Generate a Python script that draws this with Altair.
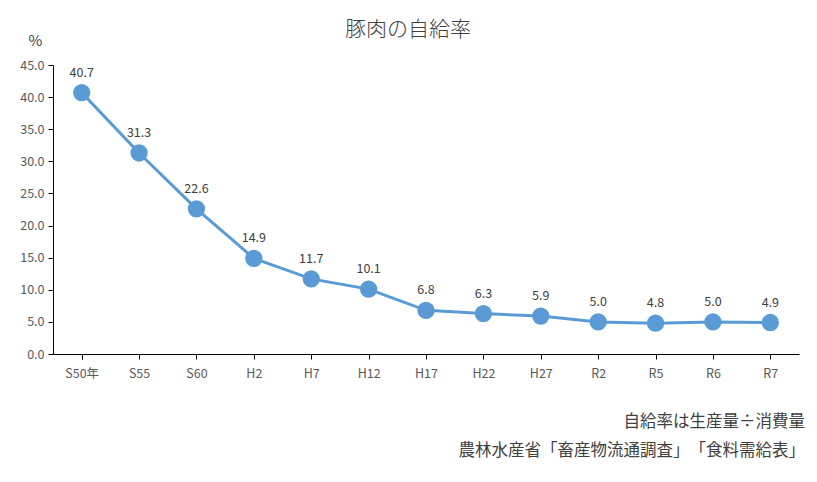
import pandas as pd
import altair as alt

years = ["S50年", "S55", "S60", "H2", "H7", "H12", "H17", "H22", "H27", "R2", "R5", "R6", "R7"]
rates = [40.7, 31.3, 22.6, 14.9, 11.7, 10.1, 6.8, 6.3, 5.9, 5.0, 4.8, 5.0, 4.9]
title_text = "豚肉の自給率"
notes = ["自給率は生産量÷消費量", "農林水産省「畜産物流通調査」　「食料需給表」"]

jp_font = "Noto Sans CJK JP"
blue = "#5B9BD5"

df = pd.DataFrame({"year": years, "rate": rates})

x_enc = alt.X(
    "year:N", sort=years, title=None,
    scale=alt.Scale(paddingInner=0, paddingOuter=0),
    axis=alt.Axis(
        labelAngle=0, labelColor="#595959", labelFontSize=12.5, labelFont=jp_font,
        labelPadding=8, domainColor="#000000", tickColor="#000000", tickSize=5,
        bandPosition=1, tickExtra=True, grid=False,
    ),
)
y_enc = alt.Y(
    "rate:Q", title="%",
    scale=alt.Scale(domain=[0, 45], nice=False),
    axis=alt.Axis(
        values=list(range(0, 46, 5)), format=".1f", labelColor="#595959",
        labelFontSize=12.5, labelFont=jp_font, labelPadding=4,
        domainColor="#000000", tickColor="#000000", tickSize=5, grid=False,
        titleAngle=0, titleX=-18, titleY=-17, titleFont=jp_font,
        titleFontSize=15, titleFontWeight="normal", titleColor="#404040",
    ),
)

base = alt.Chart(df).encode(x=x_enc, y=y_enc)

line = base.mark_line(color=blue, strokeWidth=3)
points = base.mark_circle(color=blue, size=300, opacity=1)
labels = base.mark_text(dy=-20, fontSize=12.5, font=jp_font, color="#404040").encode(
    text=alt.Text("rate:Q", format=".1f")
)


def free_text(text, xpos, ypos, size, align, weight="normal"):
    return alt.Chart(pd.DataFrame({"t": [text]})).mark_text(
        align=align, baseline="middle", fontSize=size, font=jp_font,
        color="#404040", fontWeight=weight,
    ).encode(text="t:N", x=alt.value(xpos), y=alt.value(ypos))


chart = alt.layer(
    line, points, labels,
    free_text(title_text, 355, -35, 21, "center", 300),
    free_text(notes[0], 752, 357, 16.5, "right"),
    free_text(notes[1], 752, 386, 16.5, "right"),
).properties(
    width=746,
    height=289,
    autosize=alt.AutoSizeParams(type="none"),
    padding={"left": 45, "top": 57, "right": 10, "bottom": 110},
).configure_view(stroke=None)

chart.save("out.html", embed_options={"renderer": "svg", "actions": False})
